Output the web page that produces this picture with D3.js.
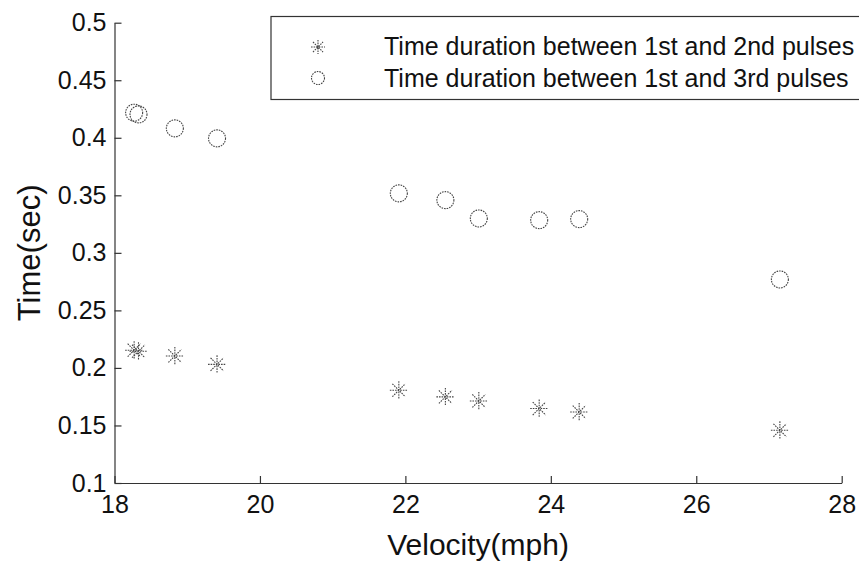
<!DOCTYPE html>
<html>
<head>
<meta charset="utf-8">
<script src="https://cdn.jsdelivr.net/npm/d3@7"></script>
<style>
  body { margin: 0; background: #fff; }
  svg text { font-family: "Liberation Sans", Arial, sans-serif; fill: #111; }
</style>
</head>
<body>
<svg id="drawing_region"></svg>
<script>
// values
const velocity = [18.27, 18.33, 18.83, 19.41, 21.91, 22.55, 23.01, 23.84, 24.39, 27.15];
const time12 = [0.2154, 0.2145, 0.2104, 0.2031, 0.1806, 0.1748, 0.1713, 0.1647, 0.1617, 0.1458];
const time13 = [0.4218, 0.4203, 0.4082, 0.3995, 0.3517, 0.3458, 0.3299, 0.3284, 0.3293, 0.2769];
const xTicks = [18, 20, 22, 24, 26, 28];
const yTicks = [0.1, 0.15, 0.2, 0.25, 0.3, 0.35, 0.4, 0.45, 0.5];
const yTickLabels = ['0.1', '0.15', '0.2', '0.25', '0.3', '0.35', '0.4', '0.45', '0.5'];
const seriesNames = ['Time duration between 1st and 2nd pulses', 'Time duration between 1st and 3rd pulses'];

const config = {
    width: 859,
    height: 562,
    margin: {top: 22.7, right: 17.3, bottom: 79, left: 114.5}
};

const svg = d3.select('#drawing_region')
    .attr('width', config.width)
    .attr('height', config.height);

const inner_width = config.width - config.margin.left - config.margin.right;
const inner_height = config.height - config.margin.top - config.margin.bottom;

const chart = svg.append('g')
    .attr('transform', `translate(${config.margin.left}, ${config.margin.top})`);

const xscale = d3.scaleLinear().domain([18, 28]).range([0, inner_width]);
const yscale = d3.scaleLinear().domain([0.1, 0.5]).range([inner_height, 0]);

const xaxis = d3.axisBottom(xscale)
    .tickValues(xTicks)
    .tickFormat(d => d)
    .tickSizeInner(-7)
    .tickSizeOuter(0)
    .tickPadding(12);

const yaxis = d3.axisLeft(yscale)
    .tickValues(yTicks)
    .tickFormat((d, i) => yTickLabels[i])
    .tickSizeInner(-7)
    .tickSizeOuter(0)
    .tickPadding(8);

const xg = chart.append('g')
    .attr('transform', `translate(0, ${inner_height})`)
    .call(xaxis);
const yg = chart.append('g').call(yaxis);

[xg, yg].forEach(g => {
    g.selectAll('path, line').attr('stroke', '#333').attr('stroke-width', 1.2);
    g.selectAll('text').style('font-size', '25px').attr('fill', '#111');
});

// axis titles
svg.append('text')
    .attr('x', config.margin.left + inner_width / 2)
    .attr('y', 555)
    .attr('text-anchor', 'middle')
    .style('font-size', '30px')
    .text('Velocity(mph)');

svg.append('text')
    .attr('transform', `translate(40, ${config.margin.top + inner_height / 2}) rotate(-90)`)
    .attr('text-anchor', 'middle')
    .style('font-size', '31px')
    .text('Time(sec)');

// star marker like matlab '*'
const starPath = r => {
    const d = r * 0.72;
    return `M${-r},0L${r},0M0,${-r}L0,${r}M${-d},${-d}L${d},${d}M${-d},${d}L${d},${-d}`;
};

const markStyle = sel => sel
    .attr('fill', 'none')
    .attr('stroke', '#444')
    .attr('stroke-width', 1.1)
    .attr('stroke-dasharray', '1.6,1');

const pts12 = velocity.map((v, i) => ({x: v, y: time12[i]}));
const pts13 = velocity.map((v, i) => ({x: v, y: time13[i]}));

chart.selectAll('.star')
    .data(pts12)
    .enter()
    .append('path')
    .attr('class', 'star')
    .attr('transform', d => `translate(${xscale(d.x)}, ${yscale(d.y)})`)
    .attr('d', starPath(9))
    .call(markStyle);

chart.selectAll('.circ')
    .data(pts13)
    .enter()
    .append('circle')
    .attr('class', 'circ')
    .attr('cx', d => xscale(d.x))
    .attr('cy', d => yscale(d.y))
    .attr('r', 8.5)
    .call(markStyle);

// legend
const legend = svg.append('g');
legend.append('rect')
    .attr('x', 271)
    .attr('y', 16.5)
    .attr('width', 620)
    .attr('height', 83)
    .attr('fill', 'white')
    .attr('stroke', '#333')
    .attr('stroke-width', 1.2);

legend.append('path')
    .attr('transform', 'translate(318, 47)')
    .attr('d', starPath(7))
    .call(markStyle);
legend.append('circle')
    .attr('cx', 318)
    .attr('cy', 78)
    .attr('r', 6.5)
    .call(markStyle);

legend.selectAll('.ltext')
    .data(seriesNames)
    .enter()
    .append('text')
    .attr('class', 'ltext')
    .attr('x', 384)
    .attr('y', (d, i) => 55 + i * 32)
    .style('font-size', '25px')
    .text(d => d);
</script>
</body>
</html>
